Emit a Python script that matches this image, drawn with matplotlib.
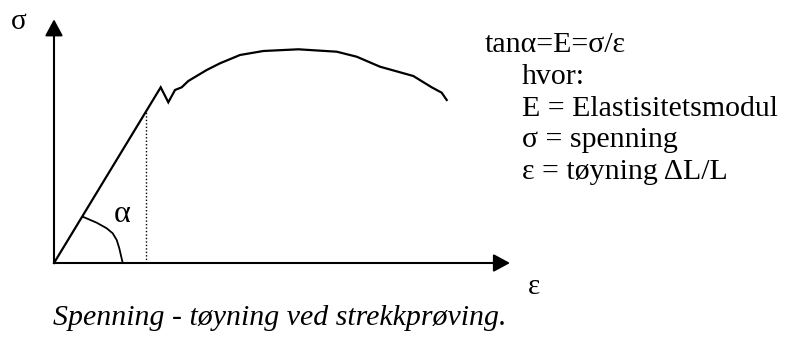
import matplotlib
matplotlib.use("Agg")
from matplotlib import pyplot as plt

# stress-strain curve (tensile test), arbitrary units
strain = [0, 106.7, 114.3, 121, 127.7, 134.3, 152.7, 166, 186, 209.3,
          244.3, 282.7, 302.7, 326, 359.3, 377.7, 387.7, 392.7]
stress = [0, 175.7, 160.7, 173, 175.7, 182, 193, 199.7, 208, 212,
          213.7, 211.3, 206.3, 196.3, 187, 175.7, 170.3, 163]

# angle arc between the elastic line and the strain axis
arc_x = [28.7, 42.7, 52.7, 58.7, 62.7, 65.3, 68.7]
arc_y = [46.3, 40.3, 34.7, 29.7, 23, 14.7, 0]

# strain where the dotted guide line is drawn
guide_strain = 91.7

x_max = 456
y_max = 243.7

lines = ["tan\u03b1=E=\u03c3/\u03b5",
         "hvor:",
         "E = Elastisitetsmodul",
         "\u03c3 = spenning",
         "\u03b5 = t\u00f8yning \u0394L/L"]
caption = "Spenning - t\u00f8yning ved strekkpr\u00f8ving."

plt.rcParams['font.family'] = ['Liberation Serif', 'DejaVu Serif']
fs = 21.5

fig = plt.figure(figsize=(7.98, 3.38), dpi=100)
ax = fig.add_axes([0, 0, 1, 1])
ax.set_xlim(-54, 744)
ax.set_ylim(-75, 263)
ax.axis('off')

# axes with arrow heads
arrow = dict(arrowstyle='-|>,head_length=10,head_width=5.4', mutation_scale=1,
             color='black', lw=1.5, shrinkA=0, shrinkB=0)
ax.annotate('', xy=(x_max, 0), xytext=(0, 0), arrowprops=arrow)
ax.annotate('', xy=(0, y_max), xytext=(0, 0), arrowprops=arrow)

ax.plot(strain, stress, color='black', lw=1.6, solid_joinstyle='miter')
ax.plot(arc_x, arc_y, color='black', lw=1.3)

slope = stress[1] / strain[1]
ax.plot([guide_strain, guide_strain], [0, guide_strain * slope],
        color='black', lw=1.0, linestyle=(0, (1, 1.5)))

ax.text(-35.5, 241, "\u03c3", fontsize=21, ha='center', va='center')
ax.text(480, -24, "\u03b5", fontsize=21, ha='center', va='center')
ax.text(68, 49, "\u03b1", fontsize=23, ha='center', va='center')

ax.text(431, 211.3, lines[0], fontsize=fs, va='baseline')
base = 179
for i, t in enumerate(lines[1:]):
    ax.text(467.7, base - 31.7 * i, t, fontsize=fs, va='baseline')

ax.text(-1, -62, caption, fontsize=fs, style='italic', va='baseline')

fig.savefig("out.png", dpi=100)
